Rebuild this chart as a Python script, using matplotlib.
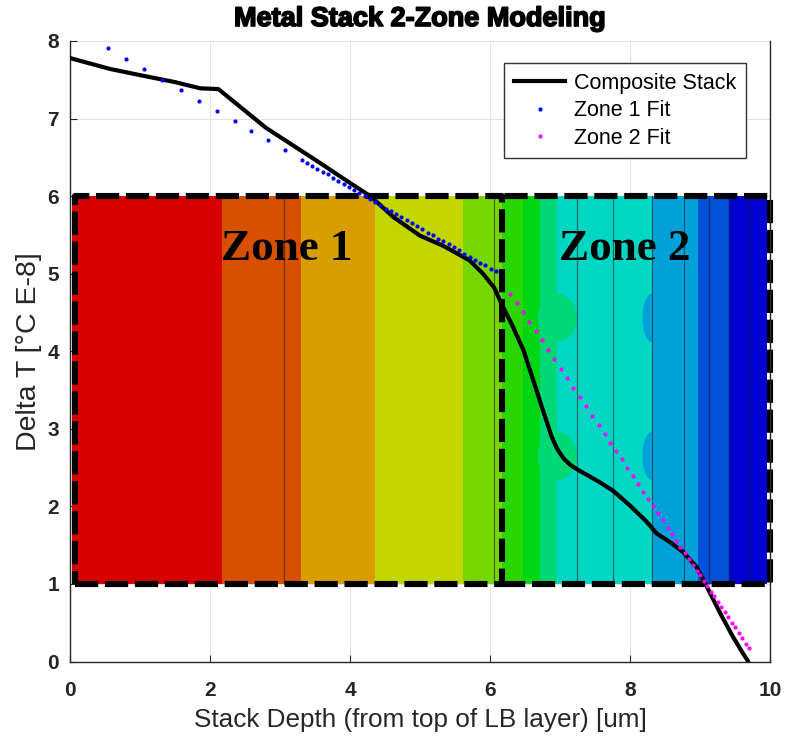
import matplotlib
matplotlib.use("Agg")
import matplotlib.pyplot as plt
from matplotlib.lines import Line2D
from matplotlib.patches import Ellipse
from matplotlib import font_manager
import matplotlib.patheffects as pe

# ---------------- data ----------------
title = "Metal Stack 2-Zone Modeling"
xlabel = "Stack Depth (from top of LB layer) [um]"
ylabel = "Delta T [°C E-8]"

stack_x = [0, 0.57, 1.0, 1.5, 1.86, 2.12, 2.8, 3.5, 4.0, 4.29, 4.62, 5.0, 5.33, 5.71, 5.9,
           6.06, 6.17, 6.31, 6.48, 6.62, 6.76, 6.88, 6.96, 7.05, 7.14, 7.24, 7.57, 7.76, 8.0,
           8.24, 8.38, 8.57, 8.76, 8.95, 9.05, 9.29, 9.47, 9.61, 9.69]
stack_y = [7.78, 7.64, 7.56, 7.47, 7.39, 7.38, 6.88, 6.47, 6.17, 6.0, 5.73, 5.49, 5.36, 5.17, 5.0,
           4.82, 4.6, 4.35, 4.01, 3.62, 3.23, 2.90, 2.74, 2.62, 2.54, 2.48, 2.31, 2.20, 2.01,
           1.80, 1.65, 1.54, 1.41, 1.22, 1.05, 0.62, 0.32, 0.11, 0.0]

zone1_x = [0.54, 0.80, 1.06, 1.32, 1.58, 1.84, 2.10, 2.35, 2.59, 2.83, 3.07, 3.31, 3.38, 3.46,
           3.53, 3.61, 3.68, 3.76, 3.83, 3.91, 3.98, 4.06, 4.13, 4.21, 4.28, 4.36, 4.43, 4.51,
           4.58, 4.66, 4.73, 4.81, 4.88, 4.96, 5.03, 5.11, 5.18, 5.26, 5.33, 5.41, 5.48, 5.56,
           5.63, 5.71, 5.78, 5.86, 5.93, 6.01, 6.08]
zone1_y = [7.91, 7.77, 7.64, 7.50, 7.37, 7.23, 7.10, 6.97, 6.84, 6.72, 6.59, 6.47, 6.43, 6.39,
           6.35, 6.31, 6.28, 6.23, 6.20, 6.16, 6.12, 6.08, 6.04, 6.00, 5.96, 5.92, 5.89, 5.84,
           5.81, 5.77, 5.73, 5.69, 5.65, 5.61, 5.57, 5.53, 5.50, 5.45, 5.42, 5.38, 5.34, 5.30,
           5.26, 5.22, 5.18, 5.14, 5.11, 5.06, 5.03]

zone2_x = [6.29, 6.38, 6.47, 6.56, 6.65, 6.74, 6.83, 6.92, 7.01, 7.10, 7.19, 7.28, 7.37, 7.46,
           7.55, 7.64, 7.72, 7.80, 7.88, 7.96, 8.04, 8.12, 8.19, 8.26, 8.33, 8.40, 8.47, 8.54,
           8.60, 8.66, 8.72, 8.78, 8.84, 8.90, 8.95, 9.00, 9.05, 9.10, 9.15, 9.20, 9.25, 9.30,
           9.35, 9.40, 9.45, 9.50, 9.55, 9.60, 9.65, 9.70]
zone2_y = [4.74, 4.62, 4.50, 4.38, 4.26, 4.14, 4.02, 3.90, 3.77, 3.65, 3.53, 3.41, 3.29, 3.17,
           3.05, 2.93, 2.82, 2.72, 2.61, 2.50, 2.39, 2.29, 2.19, 2.10, 2.00, 1.91, 1.82, 1.72,
           1.64, 1.56, 1.48, 1.40, 1.32, 1.24, 1.17, 1.11, 1.04, 0.97, 0.90, 0.84, 0.77, 0.70,
           0.64, 0.57, 0.50, 0.44, 0.37, 0.30, 0.23, 0.17]

# temperature-map bands (layer stack image)
band_edges = [0.03, 2.17, 3.3, 4.36, 5.61, 6.17, 6.47, 6.71, 6.96, 8.31, 8.97, 9.41, 9.96]
band_colors = ['#D70000', '#D65000', '#D89E00', '#C4D600', '#78D600', '#2AD600',
               '#00D614', '#00D878', '#00D6C4', '#00A0D8', '#0050D8', '#0000D0']
band_ylim = [1.0, 6.0]
layer_lines = [3.06, 6.06, 7.24, 7.76, 8.31, 8.77, 9.13, 9.41, 9.7]
# contour bulges: (edge x, reach, centre y, height, colour)
bulge_x = [6.96, 6.96, 8.31, 8.31]
bulge_reach = [0.28, 0.28, 0.13, 0.13]
bulge_y = [4.43, 2.65, 4.43, 2.65]
bulge_h = [0.62, 0.62, 0.62, 0.62]
bulge_colors = ['#00D878', '#00D878', '#00A0D8', '#00A0D8']

zone_left = 0.07
zone_split = 6.17
zone_right = 10.0
zone_labels = ["Zone 1", "Zone 2"]
zone_label_x = [3.1, 7.93]
zone_label_y = 5.18

xticks = [0, 2, 4, 6, 8, 10]
yticks = [0, 1, 2, 3, 4, 5, 6, 7, 8]

# ---------------- plot ----------------
def pick(fams):
    avail = {f.name for f in font_manager.fontManager.ttflist}
    for f in fams:
        if f in avail:
            return f
    return "DejaVu Sans"

sans = pick(["Liberation Sans", "Arial", "DejaVu Sans"])
serif = pick(["Liberation Serif", "DejaVu Serif"])
plt.rcParams['font.family'] = [sans, 'DejaVu Sans']

fig = plt.figure(figsize=(7.85, 7.4), dpi=100)
ax = fig.add_axes([70/785, 1 - 661.5/740, 700/785, 620.5/740])
ax.set_xlim(0, 10)
ax.set_ylim(0, 8)

ax.grid(True, color='#E3E3E3', linewidth=0.8, zorder=0)
ax.set_axisbelow(True)

for i, c in enumerate(band_colors):
    ax.fill_between([band_edges[i], band_edges[i + 1]], band_ylim[0], band_ylim[1],
                    color=c, linewidth=0, zorder=1)
for bx, br, by, bh, bc in zip(bulge_x, bulge_reach, bulge_y, bulge_h, bulge_colors):
    ax.add_patch(Ellipse((bx, by), 2 * br, bh, facecolor=bc, edgecolor='none', zorder=1.2))
for lx in layer_lines:
    ax.plot([lx, lx], band_ylim, color='#1a1a1a', alpha=0.55, linewidth=0.9, zorder=1.5)

dash_kw = dict(color='black', linewidth=4.4, dashes=(3.8, 1.1), dash_capstyle='butt',
               zorder=2, clip_on=False)
y0, y1 = band_ylim
# zone 1 box (full rectangle)
ax.plot([zone_left, zone_split, zone_split, zone_left, zone_left], [y0, y0, y1, y1, y0], **dash_kw)
# zone 2 box (shares left edge with zone 1)
ax.plot([zone_split, zone_right, zone_right, zone_split], [y0, y0, y1, y1], **dash_kw)

for lbl, lx in zip(zone_labels, zone_label_x):
    ax.text(lx, zone_label_y, lbl, family=serif, fontweight='bold', fontsize=32.5,
            ha='center', va='baseline', color='black', zorder=3)

ax.plot(stack_x, stack_y, color='black', linewidth=3.0, zorder=4, label='Composite Stack',
        solid_joinstyle='round', solid_capstyle='round')
ax.plot(zone1_x, zone1_y, linestyle='none', marker='o', markersize=3.0, color='#0000FF',
        markeredgewidth=0, zorder=5, label='Zone 1 Fit')
ax.plot(zone2_x, zone2_y, linestyle='none', marker='o', markersize=3.0, color='#FF00FF',
        markeredgewidth=0, zorder=5, label='Zone 2 Fit')

ax.set_xticks(xticks)
ax.set_yticks(yticks)
ax.tick_params(direction='in', length=5, width=0.8, colors='#262626', labelsize=15,
               right=False, top=False)
ax.tick_params(axis='x', pad=14)
ax.tick_params(axis='y', pad=8)
for lab in ax.get_xticklabels() + ax.get_yticklabels():
    lab.set_fontweight('bold')
    lab.set_color('#262626')

for s in ['left', 'bottom', 'right']:
    ax.spines[s].set_color('#262626')
    ax.spines[s].set_linewidth(1.0)
ax.spines['top'].set_visible(False)

ax.set_xlabel(xlabel, fontsize=18.8, color='#262626', labelpad=6)
ax.set_ylabel(ylabel, fontsize=20.5, color='#262626', labelpad=4)
fig.text(420/785, 1 - 19/740, title, fontsize=19.5, fontweight='bold', ha='center', va='center',
         path_effects=[pe.withStroke(linewidth=1.2, foreground='black')])

handles = [Line2D([], [], color='black', linewidth=3.0),
           Line2D([], [], linestyle='none', marker='o', markersize=3.0, color='#0000FF', markeredgewidth=0),
           Line2D([], [], linestyle='none', marker='o', markersize=3.0, color='#FF00FF', markeredgewidth=0)]
leg = ax.legend(handles, ['Composite Stack', 'Zone 1 Fit', 'Zone 2 Fit'],
                loc='upper right', bbox_to_anchor=(746/785, 1 - 63/740),
                bbox_transform=fig.transFigure, fontsize=15.5, frameon=True, fancybox=False,
                framealpha=1, edgecolor='#333333', handlelength=2.4, labelspacing=0.3,
                borderpad=0.45, handletextpad=0.4, borderaxespad=0)
leg.get_frame().set_linewidth(1.0)

fig.savefig("out.png", dpi=100)
